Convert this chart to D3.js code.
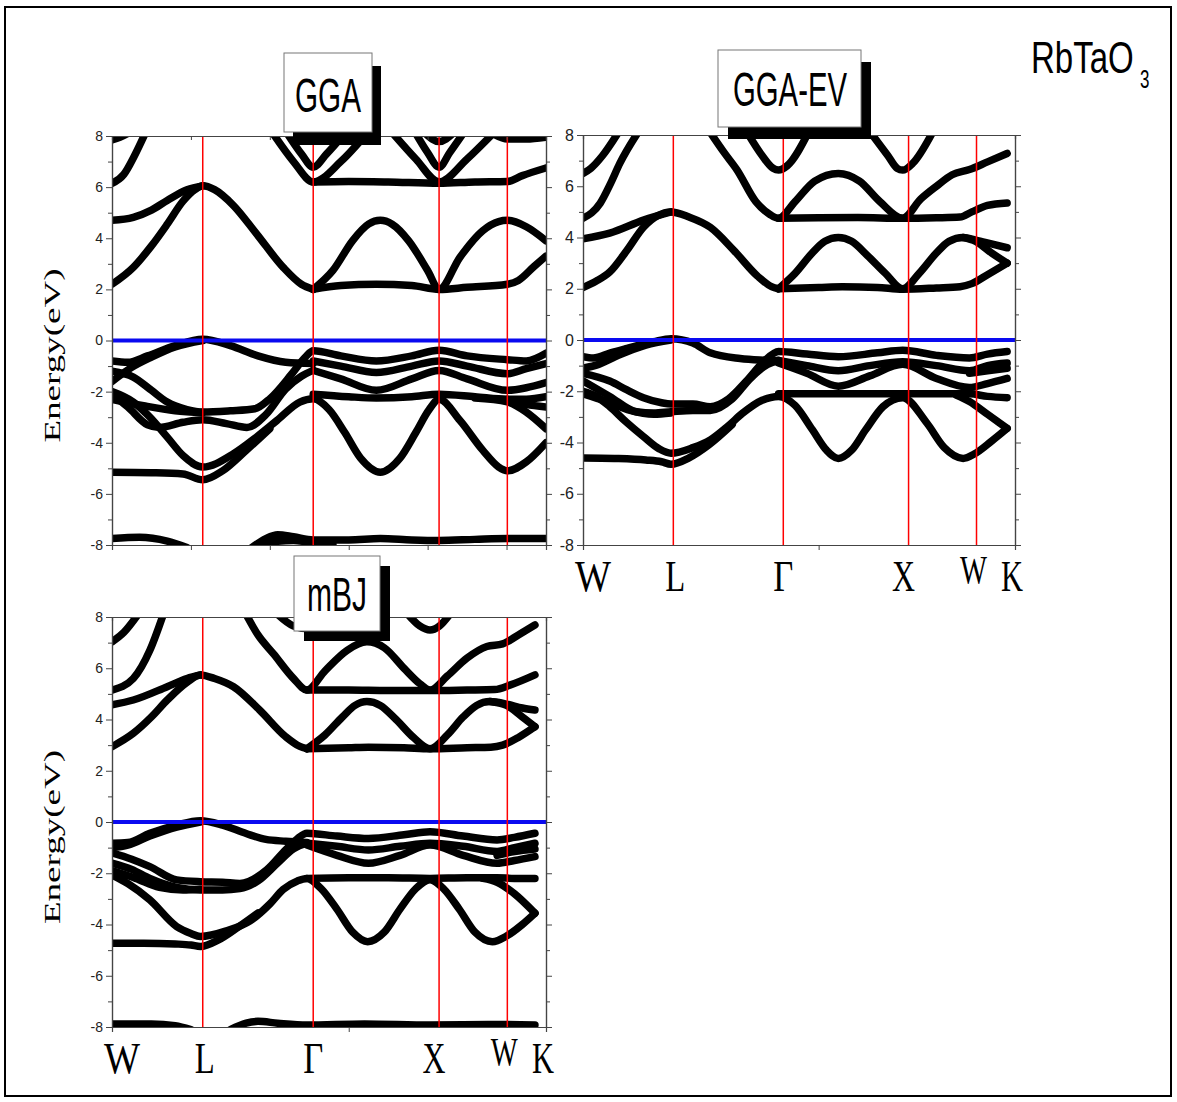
<!DOCTYPE html>
<html><head><meta charset="utf-8">
<script src="https://cdn.jsdelivr.net/npm/d3@7"></script>
<style>html,body{margin:0;padding:0;background:#fff;} svg{display:block;}</style>
</head><body>
<svg id="chart" width="1177" height="1102"></svg>
<script>
// ---------- DATA ----------
const kSym = [0, 1.15, 2.55, 4.145, 5.01, 5.5];
const kLabels = ["W", "L", "\u0393", "X", "W", "K"];
const energyTicks = [-8, -6, -4, -2, 0, 2, 4, 6, 8];
const energyMinor = [-7, -5, -3, -1, 1, 3, 5, 7];
const panelTitles = ["GGA", "GGA-EV", "mBJ"];
const compound = ["RbTaO", "3"];

// GGA bands [k, E(eV)]
const ggaBands = [
  [[0,2.2],[0.27,2.86],[0.5,3.7],[0.7,4.55],[0.9,5.45],[1.05,5.9],[1.15,6.05],[1.3,5.9],[1.54,5.28],[1.83,4.18],[2.17,2.86],[2.4,2.2],[2.55,2.0]],
  [[0,4.7],[0.27,4.82],[0.5,5.1],[0.7,5.48],[0.95,5.9],[1.15,6.05]],
  [[2.55,2.0],[2.9,2.15],[3.35,2.2],[3.8,2.15],[4.145,2.0],[4.5,2.08],[5.01,2.2],[5.15,2.35],[5.35,2.9],[5.5,3.3]],
  [[2.55,2.0],[2.8,2.74],[3.05,3.91],[3.25,4.55],[3.4,4.7],[3.55,4.55],[3.76,3.9],[4.0,2.74],[4.145,2.0],[4.41,3.26],[4.7,4.3],[4.9,4.65],[5.01,4.7],[5.25,4.45],[5.5,3.9]],
  [[2.55,6.2],[3.0,6.22],[3.5,6.2],[4.145,6.15],[4.6,6.2],[5.01,6.22],[5.2,6.45],[5.5,6.75]],
  [[2.04,8.1],[2.3,7.0],[2.55,6.2],[2.9,7.0],[3.23,8.1]],
  [[2.22,8.1],[2.4,7.3],[2.55,6.78],[2.72,7.3],[2.95,8.1]],
  [[3.56,8.1],[3.85,7.1],[4.145,6.2],[4.5,7.1],[4.83,8.1]],
  [[3.85,8.1],[4.0,7.35],[4.145,6.78],[4.28,7.35],[4.45,8.1]],
  [[3.97,8.1],[4.145,7.78],[4.32,8.1]],
  [[4.85,8.05],[5.01,7.88],[5.25,7.88],[5.5,7.95]],
  [[0,7.85],[0.1,7.95],[0.2,8.1]],
  [[0,6.15],[0.15,6.5],[0.28,7.2],[0.42,8.1]],
  [[0,-0.8],[0.2,-0.85],[0.45,-0.6],[0.8,-0.2],[1.15,0.05],[1.5,-0.2],[1.85,-0.6],[2.2,-0.85],[2.55,-0.9]],
  [[0,-1.6],[0.25,-1.05],[0.5,-0.65],[0.8,-0.25],[1.15,0.0]],
  [[0,-1.2],[0.27,-1.43],[0.5,-1.95],[0.7,-2.41],[0.95,-2.7],[1.15,-2.8],[1.5,-2.75],[1.81,-2.67],[2.0,-2.28],[2.28,-1.3],[2.45,-0.65],[2.55,-0.4],[2.9,-0.6],[3.35,-0.8],[3.8,-0.6],[4.145,-0.38],[4.5,-0.6],[5.01,-0.75],[5.25,-0.8],[5.5,-0.5]],
  [[2.55,-0.8],[2.9,-1.0],[3.35,-1.25],[3.8,-1.0],[4.145,-0.8],[4.5,-1.0],[5.01,-1.3],[5.25,-1.1],[5.5,-0.9]],
  [[2.55,-1.17],[2.9,-1.5],[3.35,-1.95],[3.8,-1.5],[4.145,-1.17],[4.5,-1.5],[5.01,-1.95],[5.25,-1.85],[5.5,-1.65]],
  [[2.55,-2.1],[3.0,-2.2],[3.35,-2.25],[3.8,-2.2],[4.145,-2.1],[4.6,-2.2],[5.01,-2.3],[5.25,-2.3],[5.5,-2.2]],
  [[0,-2.0],[0.27,-2.41],[0.48,-3.0],[0.7,-3.78],[0.9,-4.5],[1.15,-4.95],[1.54,-4.43],[1.83,-3.78],[2.09,-3.13],[2.38,-2.41],[2.55,-2.28],[2.75,-2.7],[2.95,-3.6],[3.15,-4.6],[3.4,-5.15],[3.65,-4.6],[3.85,-3.6],[4.02,-2.7],[4.145,-2.3],[4.41,-3.13],[4.7,-4.3],[4.9,-4.95],[5.01,-5.1],[5.25,-4.75],[5.5,-4.0]],
  [[0,-5.15],[0.5,-5.17],[0.9,-5.22],[1.15,-5.45],[1.4,-5.1],[1.7,-4.3],[2.0,-3.45]],
  [[0,-2.1],[0.2,-2.6],[0.45,-3.3],[0.6,-3.4],[0.9,-3.2],[1.15,-3.1],[1.45,-3.25],[1.71,-3.4],[1.95,-2.9],[2.2,-1.9],[2.4,-1.4],[2.55,-1.17]],
  [[0,-2.3],[0.4,-2.55],[0.8,-2.75],[1.15,-2.82]],
  [[4.6,-2.25],[5.01,-2.4],[5.25,-2.8],[5.5,-3.45]],
  [[5.01,-2.3],[5.25,-2.5],[5.5,-2.6]],
  [[0,-7.75],[0.35,-7.7],[0.7,-7.85],[0.95,-8.1]],
  [[1.75,-8.15],[1.95,-7.75],[2.1,-7.6],[2.3,-7.68],[2.55,-7.8],[3.0,-7.8],[3.4,-7.75],[3.8,-7.8],[4.145,-7.82],[4.6,-7.78],[5.01,-7.75],[5.5,-7.75]],
  [[1.85,-8.15],[2.1,-7.85],[2.3,-7.82],[2.55,-7.92],[2.8,-7.97]]
];

// GGA-EV bands [k, E(eV)]
const evBands = [
  [[0,2.05],[0.17,2.3],[0.34,2.65],[0.56,3.5],[0.77,4.4],[0.95,4.85],[1.12,5.0],[1.35,4.8],[1.62,4.4],[1.92,3.5],[2.22,2.5],[2.4,2.08],[2.49,2.0]],
  [[0,3.95],[0.34,4.17],[0.77,4.68],[1.12,5.0]],
  [[2.49,2.0],[3.0,2.05],[3.3,2.08],[3.75,2.05],[4.07,1.98],[4.5,2.03],[4.8,2.08],[4.95,2.2],[5.15,2.55],[5.4,3.0]],
  [[2.49,2.0],[2.7,2.6],[2.92,3.4],[3.08,3.85],[3.25,4.0],[3.42,3.85],[3.62,3.3],[3.85,2.6],[4.07,2.0],[4.28,2.6],[4.5,3.4],[4.66,3.85],[4.84,4.0],[5.0,3.9],[5.2,3.75],[5.4,3.6]],
  [[4.84,4.0],[5.0,3.85],[5.2,3.4],[5.4,3.0]],
  [[2.49,4.75],[3.0,4.77],[3.5,4.78],[4.07,4.75],[4.5,4.77],[4.8,4.8],[4.95,5.0],[5.15,5.25],[5.4,5.35]],
  [[1.62,8.1],[1.8,7.3],[1.96,6.64],[2.2,5.4],[2.38,4.9],[2.49,4.75],[2.7,5.4],[2.95,6.2],[3.25,6.5],[3.52,6.2],[3.78,5.4],[4.07,4.75],[4.3,5.5],[4.5,6.0],[4.7,6.45],[4.92,6.65],[5.15,6.95],[5.4,7.28]],
  [[2.09,8.1],[2.28,7.2],[2.42,6.7],[2.49,6.63],[2.6,6.8],[2.87,8.1]],
  [[3.66,8.1],[3.88,7.2],[4.0,6.7],[4.07,6.63],[4.2,6.9],[4.45,8.1]],
  [[0,6.5],[0.1,6.7],[0.25,7.2],[0.45,8.1]],
  [[0,4.75],[0.22,5.34],[0.35,6.1],[0.47,6.9],[0.7,8.1]],
  [[0,-0.65],[0.13,-0.7],[0.35,-0.5],[0.56,-0.33],[0.9,-0.07],[1.12,0.05],[1.4,-0.12],[1.62,-0.5],[2.0,-0.72],[2.25,-0.78],[2.49,-0.8]],
  [[0,-1.1],[0.2,-0.95],[0.45,-0.6],[0.8,-0.2],[1.12,0.0]],
  [[0,-1.3],[0.34,-1.6],[0.56,-1.95],[0.77,-2.25],[1.0,-2.45],[1.12,-2.5],[1.4,-2.5],[1.62,-2.6],[1.85,-2.3],[2.08,-1.6],[2.3,-0.85],[2.49,-0.45],[2.85,-0.55],[3.25,-0.65],[3.75,-0.5],[4.07,-0.4],[4.5,-0.6],[4.92,-0.7],[5.15,-0.55],[5.4,-0.45]],
  [[0,-1.6],[0.34,-2.2],[0.68,-2.8],[0.9,-2.85],[1.12,-2.8],[1.4,-2.75],[1.62,-2.75],[1.9,-2.3],[2.13,-1.5],[2.35,-0.95],[2.49,-0.8]],
  [[0,-2.1],[0.3,-2.4],[0.6,-2.75],[0.9,-2.9],[1.12,-2.85]],
  [[2.49,-0.8],[2.85,-1.0],[3.25,-1.2],[3.65,-1.0],[4.07,-0.85],[4.5,-1.0],[4.92,-1.2],[5.15,-1.0],[5.4,-0.9]],
  [[2.49,-0.9],[2.85,-1.3],[3.25,-1.8],[3.65,-1.4],[4.07,-0.95],[4.5,-1.5],[4.92,-1.85],[5.15,-1.7],[5.4,-1.5]],
  [[4.92,-1.3],[5.15,-1.2],[5.4,-1.1]],
  [[2.49,-2.1],[3.0,-2.1],[3.5,-2.1],[4.07,-2.1],[4.5,-2.1],[4.92,-2.1],[5.15,-2.2],[5.4,-2.25]],
  [[0,-2.0],[0.17,-2.2],[0.34,-2.6],[0.55,-3.2],[0.77,-3.77],[0.97,-4.25],[1.12,-4.42],[1.4,-4.2],[1.62,-3.9],[1.85,-3.35],[2.03,-2.86],[2.28,-2.35],[2.49,-2.2],[2.7,-2.55],[2.92,-3.5],[3.1,-4.3],[3.25,-4.62],[3.42,-4.3],[3.6,-3.5],[3.82,-2.6],[4.07,-2.25],[4.38,-3.25],[4.6,-4.2],[4.84,-4.62],[4.98,-4.45],[5.2,-3.95],[5.4,-3.45]],
  [[4.75,-2.15],[4.92,-2.4],[5.15,-2.9],[5.4,-3.45]],
  [[0,-4.6],[0.4,-4.62],[0.8,-4.68],[1.0,-4.75],[1.12,-4.85],[1.35,-4.6],[1.6,-4.1],[1.9,-3.3]]
];

// mBJ bands [k, E(eV)]
const mbjBands = [
  [[0,2.94],[0.27,3.46],[0.5,4.1],[0.7,4.76],[0.95,5.45],[1.12,5.74],[1.3,5.6],[1.54,5.28],[1.87,4.37],[2.2,3.33],[2.38,2.95],[2.47,2.86]],
  [[0,4.57],[0.27,4.76],[0.7,5.28],[0.95,5.6],[1.12,5.74]],
  [[2.47,2.86],[3.0,2.9],[3.25,2.92],[3.7,2.9],[4.03,2.86],[4.5,2.9],[4.8,2.92],[4.95,3.0],[5.15,3.3],[5.36,3.72]],
  [[2.47,2.86],[2.7,3.4],[2.92,4.1],[3.08,4.55],[3.23,4.7],[3.4,4.55],[3.6,4.0],[3.82,3.3],[4.03,2.86],[4.25,3.4],[4.45,4.1],[4.62,4.55],[4.79,4.7],[5.0,4.6],[5.2,4.45],[5.36,4.37]],
  [[4.79,4.7],[5.0,4.55],[5.2,4.1],[5.36,3.72]],
  [[2.47,5.15],[3.0,5.15],[3.5,5.13],[4.03,5.13],[4.5,5.15],[4.85,5.17],[5.05,5.35],[5.36,5.74]],
  [[1.7,8.1],[1.85,7.3],[2.05,6.55],[2.3,5.6],[2.47,5.15],[2.7,5.9],[2.98,6.7],[3.23,7.03],[3.45,6.8],[3.7,6.0],[3.9,5.4],[4.03,5.15],[4.25,5.7],[4.5,6.4],[4.75,6.85],[4.95,6.95],[5.15,7.3],[5.36,7.69]],
  [[2.1,8.1],[2.3,7.65],[2.47,7.55],[2.65,7.65],[2.85,8.1]],
  [[3.75,8.1],[3.9,7.65],[4.03,7.49],[4.15,7.65],[4.28,8.1]],
  [[0,7.03],[0.15,7.4],[0.33,8.1]],
  [[0,5.15],[0.27,5.6],[0.48,6.7],[0.65,8.1]],
  [[0,-0.83],[0.2,-0.8],[0.48,-0.44],[0.82,-0.12],[1.12,0.05],[1.4,-0.12],[1.7,-0.45],[1.95,-0.68],[2.2,-0.75],[2.47,-0.8]],
  [[0,-1.0],[0.2,-0.9],[0.48,-0.55],[0.82,-0.2],[1.12,0.0]],
  [[0,-1.2],[0.25,-1.45],[0.48,-1.74],[0.82,-2.26],[1.12,-2.33],[1.4,-2.35],[1.62,-2.4],[1.96,-1.87],[2.2,-1.09],[2.35,-0.65],[2.47,-0.44],[2.85,-0.55],[3.25,-0.64],[3.7,-0.5],[4.03,-0.38],[4.45,-0.55],[4.88,-0.7],[5.1,-0.6],[5.36,-0.44]],
  [[0,-1.6],[0.25,-1.85],[0.48,-2.2],[0.82,-2.55],[1.12,-2.65],[1.4,-2.65],[1.62,-2.6],[1.85,-2.3],[2.1,-1.6],[2.3,-1.05],[2.47,-0.83]],
  [[0,-1.9],[0.3,-2.2],[0.6,-2.55],[0.9,-2.65],[1.12,-2.62]],
  [[2.47,-0.83],[2.85,-0.95],[3.25,-1.09],[3.65,-0.95],[4.03,-0.83],[4.45,-0.95],[4.88,-1.15],[5.1,-1.0],[5.36,-0.83]],
  [[2.47,-0.9],[2.85,-1.3],[3.25,-1.61],[3.65,-1.3],[4.03,-0.9],[4.45,-1.3],[4.88,-1.61],[5.1,-1.5],[5.36,-1.35]],
  [[4.88,-1.3],[5.1,-1.15],[5.36,-1.05]],
  [[2.47,-2.2],[3.0,-2.18],[3.5,-2.18],[4.03,-2.2],[4.5,-2.18],[4.88,-2.18],[5.1,-2.2],[5.36,-2.2]],
  [[0,-2.07],[0.2,-2.4],[0.48,-3.04],[0.82,-4.08],[1.0,-4.35],[1.12,-4.47],[1.45,-4.25],[1.75,-3.86],[2.0,-3.2],[2.17,-2.63],[2.35,-2.3],[2.47,-2.2],[2.65,-2.6],[2.85,-3.4],[3.05,-4.3],[3.24,-4.67],[3.45,-4.3],[3.65,-3.4],[3.85,-2.6],[4.03,-2.25],[4.2,-2.6],[4.4,-3.4],[4.6,-4.3],[4.82,-4.67],[5.0,-4.45],[5.2,-4.0],[5.36,-3.56]],
  [[4.7,-2.2],[4.88,-2.35],[5.1,-2.8],[5.36,-3.56]],
  [[0,-4.73],[0.4,-4.73],[0.8,-4.76],[1.0,-4.8],[1.12,-4.86],[1.35,-4.6],[1.6,-4.1],[1.85,-3.55]],
  [[0,-7.88],[0.5,-7.88],[0.8,-7.95],[1.0,-8.1]],
  [[1.5,-8.1],[1.7,-7.85],[1.85,-7.78],[2.1,-7.85],[2.47,-7.92],[3.2,-7.88],[4.03,-7.92],[4.8,-7.9],[5.36,-7.92]]
];

// ---------- RENDER ----------
const svg = d3.select("#chart");
svg.append("rect").attr("x", 5).attr("y", 7).attr("width", 1166).attr("height", 1089)
  .attr("fill", "none").attr("stroke", "#000").attr("stroke-width", 2);

const panels = [
  {bands: ggaBands, left: 112, right: 546, top: 136, bottom: 545, ylabel: true, fs: 14, xlabels: false, topTicks: [1,2,3,4,5], botTicks: [1,2,3,4,5]},
  {bands: evBands, left: 583, right: 1015, top: 135, bottom: 545, ylabel: false, fs: 16, xlabels: true, topTicks: [], botTicks: [0,3]},
  {bands: mbjBands, left: 112, right: 546, top: 617, bottom: 1027, ylabel: true, fs: 14, xlabels: true, topTicks: [], botTicks: [0,3]}
];

const labelDx = [10, 2, 0, -5, -3, -3];
const labelW = [36, 20, 20, 23, 27, 22];

panels.forEach((p, i) => {
  const x = d3.scaleLinear().domain([0, 5.5]).range([p.left, p.right]);
  const y = d3.scaleLinear().domain([-8, 8]).range([p.bottom, p.top]);
  const g = svg.append("g");
  const cid = "clip" + i;
  svg.append("defs").append("clipPath").attr("id", cid).append("rect")
    .attr("x", p.left).attr("y", p.top).attr("width", p.right - p.left).attr("height", p.bottom - p.top);

  const line = d3.line().x(d => x(d[0])).y(d => y(d[1])).curve(d3.curveMonotoneX);
  const bg = g.append("g").attr("clip-path", `url(#${cid})`);
  bg.selectAll("path.band").data(p.bands).join("path").attr("class", "band")
    .attr("d", line).attr("fill", "none").attr("stroke", "#000")
    .attr("stroke-width", 7.5).attr("stroke-linecap", "round").attr("stroke-linejoin", "round");

  // Fermi level
  g.append("line").attr("x1", p.left).attr("x2", p.right).attr("y1", y(0)).attr("y2", y(0))
    .attr("stroke", "#0a0af0").attr("stroke-width", 4);

  // high symmetry lines
  g.selectAll("line.sym").data(kSym.slice(1, 5)).join("line").attr("class", "sym")
    .attr("x1", d => x(d)).attr("x2", d => x(d)).attr("y1", p.top).attr("y2", p.bottom)
    .attr("stroke", "#ff0000").attr("stroke-width", 1.5);

  // axes
  const fmt = d => String(d);
  const la = g.append("g").attr("transform", `translate(${p.left},0)`)
    .call(d3.axisLeft(y).tickValues(energyTicks).tickSize(6).tickPadding(3).tickFormat(fmt));
  g.append("g").attr("transform", `translate(${p.left},0)`)
    .call(d3.axisLeft(y).tickValues(energyMinor).tickSize(4).tickFormat(""));
  g.append("g").attr("transform", `translate(${p.right},0)`)
    .call(d3.axisLeft(y).tickValues(energyTicks).tickSize(-6).tickFormat(""));
  g.append("g").attr("transform", `translate(${p.right},0)`)
    .call(d3.axisLeft(y).tickValues(energyMinor).tickSize(-4).tickFormat(""));
  g.append("g").attr("transform", `translate(0,${p.top})`)
    .call(d3.axisTop(x).tickValues(p.topTicks).tickSize(-4).tickFormat(""));
  g.append("g").attr("transform", `translate(0,${p.bottom})`)
    .call(d3.axisBottom(x).tickValues(p.botTicks).tickSize(5).tickFormat(""));
  g.selectAll(".domain").attr("stroke", "#444").attr("stroke-width", 1.2);
  g.selectAll(".tick line").attr("stroke", "#444");
  la.selectAll("text").attr("font-family", "Liberation Sans, Arial, sans-serif")
    .attr("font-size", p.fs).attr("fill", "#222");

  if (p.ylabel) {
    svg.append("text").attr("transform", `translate(60,${(p.top + p.bottom) / 2 + 15}) rotate(-90)`)
      .attr("text-anchor", "middle").attr("font-family", "Liberation Serif, Times New Roman, serif")
      .attr("font-size", 24).attr("textLength", 174).attr("lengthAdjust", "spacingAndGlyphs")
      .attr("fill", "#000").text("Energy(eV)");
  }
  if (p.xlabels) {
    kLabels.forEach((lab, j) => {
      const raised = j === 4;
      svg.append("text").attr("x", x(kSym[j]) + labelDx[j] - labelW[j] / 2)
        .attr("y", p.bottom + (raised ? 38 : 46))
        .attr("font-family", "Liberation Serif, Times New Roman, serif")
        .attr("font-size", raised ? 40 : 45).attr("textLength", labelW[j])
        .attr("lengthAdjust", "spacingAndGlyphs").attr("fill", "#000").text(lab);
    });
  }
});

// title boxes
const boxes = [
  {x: 284, y: 53, w: 88, h: 79, sx: 9, sy: 13, tx: 328, ty: 112, tl: 66},
  {x: 718, y: 50, w: 143, h: 77, sx: 10, sy: 12, tx: 790, ty: 106, tl: 114},
  {x: 294, y: 556, w: 86, h: 75, sx: 10, sy: 10, tx: 337, ty: 611, tl: 60}
];
boxes.forEach((b, i) => {
  svg.append("rect").attr("x", b.x + b.sx).attr("y", b.y + b.sy).attr("width", b.w).attr("height", b.h).attr("fill", "#000");
  svg.append("rect").attr("x", b.x).attr("y", b.y).attr("width", b.w).attr("height", b.h)
    .attr("fill", "#fff").attr("stroke", "#777").attr("stroke-width", 1);
  svg.append("text").attr("x", b.tx - b.tl / 2).attr("y", b.ty)
    .attr("font-family", "Liberation Sans, Arial, sans-serif").attr("font-size", 48)
    .attr("textLength", b.tl).attr("lengthAdjust", "spacingAndGlyphs").attr("fill", "#000")
    .text(panelTitles[i]);
});

// compound label (narrow glyphs via vertical stretch)
svg.append("text").attr("transform", "translate(1031,73) scale(1,1.36)")
  .attr("font-family", "Liberation Sans, Arial, sans-serif")
  .attr("font-size", 33).text(compound[0]);
svg.append("text").attr("transform", "translate(1140,88) scale(1,1.5)")
  .attr("font-family", "Liberation Sans, Arial, sans-serif")
  .attr("font-size", 17).text(compound[1]);
</script>
</body></html>
